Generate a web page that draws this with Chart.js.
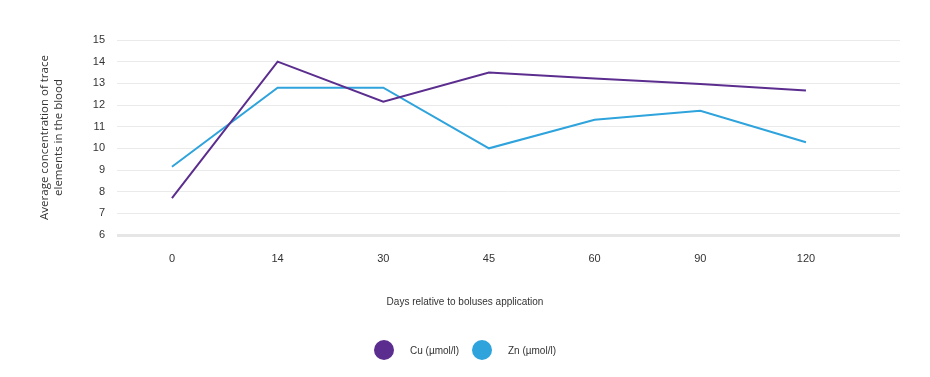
<!DOCTYPE html>
<html>
<head>
<meta charset="utf-8">
<script src="https://cdn.jsdelivr.net/npm/chart.js@4.4.1/dist/chart.umd.min.js"></script>
<style>
  html, body { margin: 0; padding: 0; background: #fff; }
  #wrap { position: relative; width: 930px; height: 377px; }
</style>
</head>
<body>
<div id="wrap"><canvas id="c"></canvas></div>
<script>
// Trace elements in blood after bolus application
const days = ['0', '14', '30', '45', '60', '90', '120'];
const cuValues = [7.7, 14.0, 12.15, 13.5, 13.22, 12.97, 12.67];
const znValues = [9.15, 12.8, 12.8, 10.0, 11.32, 11.73, 10.28];
const seriesNames = ['Cu (\u00b5mol/l)', 'Zn (\u00b5mol/l)'];
const seriesColors = ['#5b2d8e', '#2ea3dc'];
const xTitle = 'Days relative to boluses application';

const FONT = '"Liberation Sans", Arial, sans-serif';

// x title centred on the page, plus dot legend below it
const bottomText = {
    id: 'bottomText',
    afterDraw: function (chart) {
        const ctx = chart.ctx;
        const xs = [384, 482];
        ctx.save();
        ctx.font = '10px ' + FONT;
        ctx.fillStyle = '#333';
        ctx.textAlign = 'center';
        ctx.textBaseline = 'middle';
        ctx.fillText(xTitle, chart.width / 2, 302);
        chart.data.datasets.forEach(function (ds, i) {
            ctx.fillStyle = ds.borderColor;
            ctx.beginPath();
            ctx.arc(xs[i], 350, 10, 0, Math.PI * 2);
            ctx.fill();
            ctx.fillStyle = '#333';
            ctx.textAlign = 'left';
            ctx.fillText(ds.label, xs[i] + 26, 351);
        });
        ctx.restore();
    }
};

function toPoints(vals) {
    return vals.map(function (v, i) { return { x: i, y: v }; });
}

new Chart(document.getElementById('c'), {
    type: 'line',
    data: {
        datasets: [
            { label: seriesNames[0], data: toPoints(cuValues), borderColor: seriesColors[0],
              backgroundColor: seriesColors[0], borderWidth: 2, pointRadius: 0, tension: 0 },
            { label: seriesNames[1], data: toPoints(znValues), borderColor: seriesColors[1],
              backgroundColor: seriesColors[1], borderWidth: 2, pointRadius: 0, tension: 0 }
        ]
    },
    options: {
        responsive: true,
        maintainAspectRatio: false,
        animation: false,
        layout: { padding: { left: 0, right: 30, top: 40, bottom: 0 } },
        plugins: { legend: { display: false }, tooltip: { enabled: false } },
        scales: {
            x: {
                type: 'linear',
                min: -0.52, max: 6.89,
                afterBuildTicks: function (s) {
                    s.ticks = days.map(function (d, i) { return { value: i }; });
                },
                afterFit: function (s) { s.height = 142; },
                grid: { display: false },
                border: { display: false },
                ticks: {
                    padding: 9,
                    color: '#333',
                    font: { family: FONT, size: 11 },
                    callback: function (v) { return days[v]; }
                }
            },
            y: {
                min: 6, max: 15,
                afterFit: function (s) { s.width = 117; },
                grid: {
                    drawTicks: false,
                    color: function (c) { return c.tick && c.tick.value === 6 ? '#e6e6e6' : '#eaeaea'; },
                    lineWidth: function (c) { return c.tick && c.tick.value === 6 ? 3 : 1; }
                },
                border: { display: false },
                ticks: {
                    stepSize: 1,
                    padding: 12,
                    color: '#333',
                    font: { family: FONT, size: 11 }
                },
                title: {
                    display: true,
                    text: ['Average concentration of trace', 'elements in the blood'],
                    color: '#333',
                    font: { family: '"Open Sans", sans-serif', size: 11.5 },
                    padding: { top: 38, bottom: 4 }
                }
            }
        }
    },
    plugins: [bottomText]
});
</script>
</body>
</html>
